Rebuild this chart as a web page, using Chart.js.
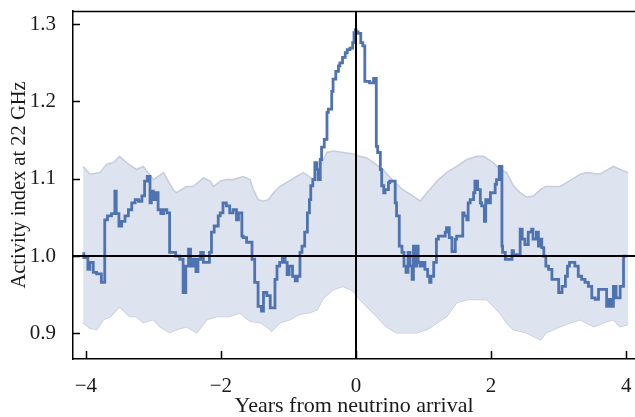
<!DOCTYPE html>
<html>
<head>
<meta charset="utf-8">
<script src="https://cdn.jsdelivr.net/npm/chart.js@4/dist/chart.umd.min.js"></script>
<style>
  html, body { margin: 0; padding: 0; background: #ffffff; }
  #wrap { width: 635px; height: 417px; position: relative; }
</style>
</head>
<body>
<div id="wrap"><canvas id="c" width="635" height="417"></canvas></div>
<script>
// ---- Data ----
const activityX = [-4.03,-3.97,-3.94,-3.89,-3.84,-3.77,-3.72,-3.68,-3.62,-3.57,-3.55,-3.51,-3.47,-3.42,-3.37,-3.32,-3.27,-3.22,-3.17,-3.13,-3.09,-3.05,-3.03,-3.00,-2.96,-2.93,-2.89,-2.85,-2.80,-2.76,-2.67,-2.61,-2.56,-2.52,-2.48,-2.45,-2.41,-2.37,-2.34,-2.30,-2.26,-2.17,-2.14,-2.10,-2.06,-2.04,-2.01,-1.97,-1.92,-1.87,-1.82,-1.77,-1.74,-1.69,-1.67,-1.62,-1.54,-1.50,-1.45,-1.40,-1.37,-1.32,-1.27,-1.25,-1.20,-1.17,-1.13,-1.09,-1.05,-1.02,-0.99,-0.94,-0.90,-0.87,-0.83,-0.80,-0.76,-0.72,-0.69,-0.67,-0.64,-0.61,-0.58,-0.56,-0.53,-0.51,-0.47,-0.43,-0.41,-0.36,-0.34,-0.30,-0.26,-0.24,-0.20,-0.16,-0.13,-0.09,-0.05,-0.03,-0.01,0.00,0.03,0.07,0.10,0.13,0.20,0.26,0.30,0.32,0.36,0.38,0.41,0.43,0.48,0.50,0.58,0.60,0.64,0.68,0.71,0.74,0.77,0.80,0.83,0.85,0.87,0.90,0.92,0.95,0.99,1.02,1.06,1.09,1.11,1.15,1.19,1.22,1.27,1.32,1.34,1.38,1.42,1.47,1.49,1.53,1.58,1.60,1.64,1.66,1.69,1.74,1.76,1.80,1.84,1.86,1.90,1.92,1.95,1.99,2.06,2.08,2.12,2.16,2.17,2.21,2.26,2.31,2.33,2.38,2.43,2.46,2.50,2.55,2.60,2.62,2.67,2.70,2.73,2.75,2.78,2.81,2.85,2.90,3.00,3.05,3.10,3.13,3.16,3.24,3.29,3.34,3.39,3.44,3.49,3.54,3.59,3.71,3.74,3.77,3.81,3.85,3.91,3.96,4.01];
const activityY = [1.005,0.998,0.983,0.992,0.979,0.977,0.966,1.047,1.052,1.055,1.084,1.055,1.039,1.045,1.052,1.060,1.069,1.073,1.071,1.078,1.097,1.103,1.069,1.084,1.073,1.082,1.060,1.055,1.060,1.056,1.005,1.000,0.996,0.953,0.987,1.009,0.987,0.996,0.980,0.996,1.005,0.992,1.005,1.031,1.039,1.039,1.052,1.056,1.069,1.065,1.056,1.060,1.047,1.056,1.026,1.024,1.018,0.996,0.966,0.935,0.929,0.953,0.949,0.933,0.933,0.970,0.987,0.992,0.998,0.992,0.976,0.987,0.974,0.968,0.974,1.005,1.013,1.031,1.056,1.073,1.091,1.099,1.121,1.112,1.099,1.125,1.141,1.151,1.186,1.190,1.213,1.229,1.239,1.246,1.250,1.257,1.263,1.267,1.269,1.276,1.289,1.293,1.290,1.288,1.276,1.272,1.226,1.224,1.230,1.142,1.134,1.112,1.091,1.082,1.086,1.095,1.097,1.069,1.052,1.013,1.005,0.987,0.979,1.005,0.987,0.970,1.013,0.987,1.013,0.992,0.987,0.992,0.983,0.974,0.966,0.974,0.992,1.022,1.026,1.026,1.031,1.037,1.024,1.006,1.022,1.026,1.026,1.056,1.052,1.047,1.069,1.073,1.082,1.097,1.086,1.069,1.065,1.045,1.073,1.069,1.082,1.093,1.099,1.116,1.013,1.005,0.996,0.996,1.007,1.002,1.002,1.035,1.022,1.015,1.031,1.035,1.022,1.031,1.013,1.022,1.011,1.000,0.987,0.983,0.970,0.953,0.961,0.974,0.987,0.992,0.987,0.974,0.970,0.966,0.961,0.946,0.944,0.957,0.935,0.944,0.935,0.961,0.946,0.961,1.000];

const upperX = [-4.04,-3.94,-3.79,-3.69,-3.59,-3.50,-3.40,-3.25,-3.15,-3.00,-2.85,-2.71,-2.66,-2.51,-2.41,-2.26,-2.16,-2.11,-2.01,-1.92,-1.82,-1.67,-1.57,-1.52,-1.45,-1.37,-1.30,-1.22,-1.13,-1.03,-0.88,-0.78,-0.63,-0.53,-0.43,-0.34,-0.19,-0.04,0.06,0.16,0.26,0.40,0.55,0.69,0.84,0.95,1.05,1.20,1.34,1.49,1.64,1.79,1.89,2.03,2.13,2.23,2.33,2.43,2.53,2.63,2.73,2.81,3.02,3.12,3.32,3.42,3.61,3.81,3.91,4.03];
const upperY = [1.116,1.106,1.108,1.119,1.121,1.129,1.121,1.112,1.116,1.099,1.108,1.086,1.082,1.090,1.090,1.101,1.097,1.090,1.097,1.099,1.099,1.103,1.099,1.086,1.073,1.071,1.073,1.082,1.090,1.095,1.103,1.108,1.099,1.116,1.134,1.136,1.134,1.132,1.129,1.127,1.121,1.112,1.097,1.086,1.078,1.071,1.082,1.097,1.108,1.116,1.125,1.129,1.129,1.121,1.112,1.108,1.091,1.082,1.076,1.078,1.086,1.090,1.090,1.095,1.106,1.108,1.106,1.116,1.112,1.108];

const lowerX = [-4.04,-3.94,-3.84,-3.74,-3.64,-3.50,-3.35,-3.25,-3.15,-3.00,-2.90,-2.76,-2.66,-2.51,-2.36,-2.21,-2.06,-2.01,-1.87,-1.72,-1.57,-1.42,-1.32,-1.25,-1.13,-0.98,-0.83,-0.68,-0.58,-0.48,-0.34,-0.19,-0.04,0.06,0.16,0.31,0.45,0.60,0.75,0.90,1.05,1.20,1.34,1.49,1.64,1.79,1.94,2.08,2.13,2.23,2.33,2.53,2.73,2.81,3.02,3.17,3.32,3.52,3.66,3.81,3.91,4.03];
const lowerY = [0.914,0.907,0.905,0.918,0.922,0.935,0.922,0.922,0.914,0.918,0.909,0.901,0.905,0.909,0.901,0.918,0.922,0.922,0.922,0.927,0.916,0.914,0.909,0.903,0.914,0.918,0.925,0.927,0.931,0.946,0.957,0.961,0.955,0.944,0.935,0.922,0.909,0.901,0.901,0.901,0.905,0.914,0.922,0.940,0.944,0.944,0.944,0.931,0.927,0.914,0.905,0.901,0.892,0.901,0.909,0.914,0.918,0.909,0.914,0.918,0.909,0.912];

const xTicks = [-4, -2, 0, 2, 4];
const yTicks = [0.9, 1.0, 1.1, 1.2, 1.3];
const xTitle = 'Years from neutrino arrival';
const yTitle = 'Activity index at 22 GHz';

// ---- Build chart ----
const toPts = (xs, ys) => xs.map((x, i) => ({ x: x, y: ys[i] }));
const FONT = "'Liberation Serif', 'DejaVu Serif', serif";
const TEXT = '#1a1a1a';

const framePlugin = {
  id: 'frame',
  afterDatasetsDraw(chart) {
    const { ctx, chartArea: a, scales: { x, y } } = chart;
    ctx.save();
    ctx.strokeStyle = '#000';
    ctx.lineWidth = 2;
    const x0 = Math.round(x.getPixelForValue(0));
    const y1 = Math.round(y.getPixelForValue(1.0));
    ctx.beginPath();
    ctx.moveTo(x0, a.top); ctx.lineTo(x0, a.bottom);
    ctx.moveTo(a.left, y1); ctx.lineTo(a.right, y1);
    ctx.stroke();
    ctx.lineWidth = 1.5;
    ctx.beginPath();
    ctx.moveTo(a.left, a.top + 0.5); ctx.lineTo(a.right, a.top + 0.5);
    ctx.stroke();
    ctx.lineWidth = 1.5;
    ctx.beginPath();
    xTicks.forEach(v => {
      const px = Math.round(x.getPixelForValue(v)) + 0.5;
      ctx.moveTo(px, a.bottom); ctx.lineTo(px, a.bottom - 8);
    });
    yTicks.forEach(v => {
      const py = Math.round(y.getPixelForValue(v)) + 0.5;
      ctx.moveTo(a.left, py); ctx.lineTo(a.left + 7, py);
    });
    ctx.stroke();
    ctx.restore();
  }
};

new Chart(document.getElementById('c'), {
  type: 'line',
  data: {
    datasets: [
      {
        label: 'lower',
        data: toPts(lowerX, lowerY),
        borderColor: 'rgb(198,206,222)',
        borderWidth: 1.6,
        pointRadius: 0,
        fill: false,
        tension: 0,
        order: 3
      },
      {
        label: 'upper',
        data: toPts(upperX, upperY),
        borderColor: 'rgb(198,206,222)',
        borderWidth: 1.6,
        backgroundColor: 'rgb(222,228,239)',
        pointRadius: 0,
        fill: '-1',
        tension: 0,
        order: 2
      },
      {
        label: 'activity',
        data: toPts(activityX, activityY),
        borderColor: 'rgb(78,115,176)',
        borderWidth: 2.8,
        pointRadius: 0,
        stepped: 'after',
        fill: false,
        order: 1
      }
    ]
  },
  options: {
    responsive: false,
    animation: false,
    devicePixelRatio: 1,
    layout: { padding: { top: 11, right: 0, left: 0, bottom: 0 } },
    plugins: { legend: { display: false }, tooltip: { enabled: false } },
    scales: {
      x: {
        type: 'linear',
        min: -4.19,
        max: 4.13,
        afterBuildTicks: s => { s.ticks = xTicks.map(v => ({ value: v })); },
        afterFit: s => { s.height = 58; s.paddingLeft = 0; s.paddingRight = 0; },
        grid: { display: false, drawTicks: false },
        border: { display: true, color: '#000', width: 1.5 },
        ticks: {
          padding: 15,
          color: TEXT,
          font: { family: FONT, size: 21 },
          maxRotation: 0,
          callback: v => (v < 0 ? '\u2212' + Math.abs(v) : String(v))
        },
        title: {
          display: true,
          text: xTitle,
          color: TEXT,
          font: { family: FONT, size: 22, lineHeight: 1 },
          padding: { top: 0, bottom: 0 }
        }
      },
      y: {
        type: 'linear',
        min: 0.867,
        max: 1.317,
        afterBuildTicks: s => { s.ticks = yTicks.map(v => ({ value: v })); },
        afterFit: s => { s.width = 73; s.paddingTop = 0; s.paddingBottom = 0; },
        grid: { display: false, drawTicks: false },
        border: { display: true, color: '#000', width: 1.5 },
        ticks: {
          padding: 17,
          color: TEXT,
          font: { family: FONT, size: 21 },
          callback: v => Number(v).toFixed(1)
        },
        title: {
          display: true,
          text: yTitle,
          color: TEXT,
          font: { family: FONT, size: 20.5, lineHeight: 1 },
          padding: { top: 9, bottom: 0 }
        }
      }
    }
  },
  plugins: [framePlugin]
});
</script>
</body>
</html>
